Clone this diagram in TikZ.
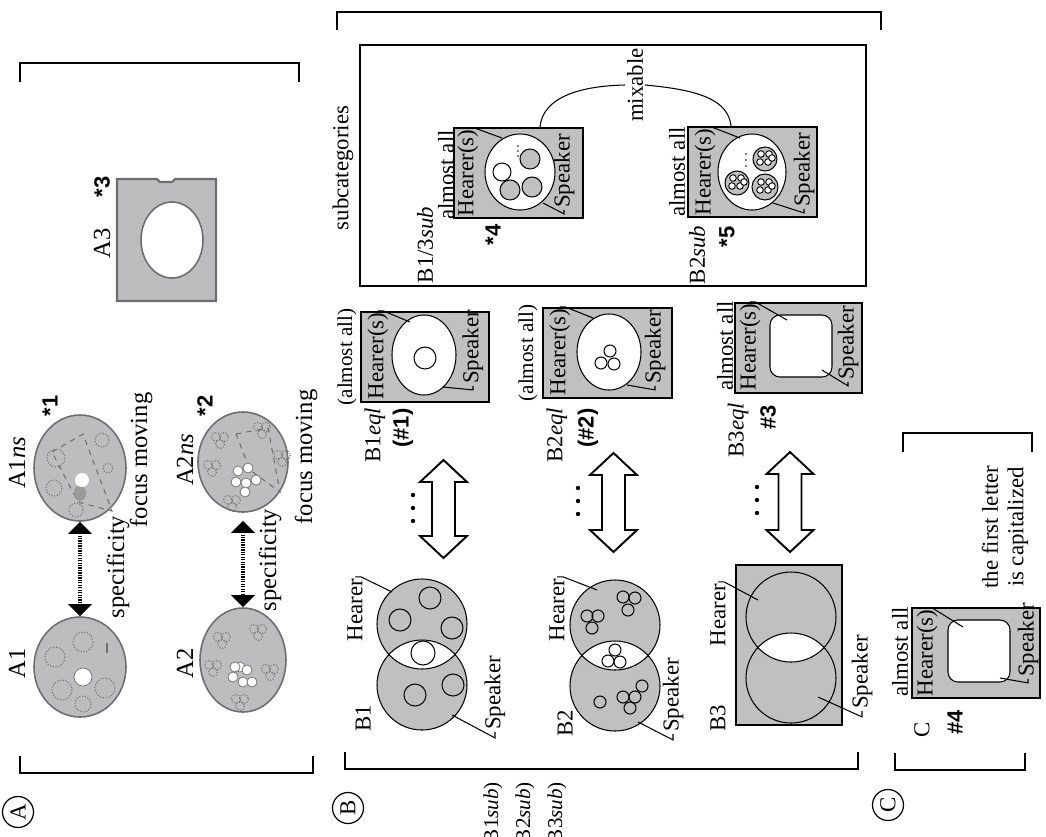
\documentclass[tikz,border=0pt]{standalone}
\usepackage{fontspec}
\setmainfont{Liberation Serif}
\setsansfont{Liberation Sans}
\usepackage{tikz}
\usetikzlibrary{arrows.meta,shapes.geometric}
\definecolor{boxgray}{RGB}{192,192,192}
\definecolor{picgray}{RGB}{189,189,191}
\definecolor{picedge}{RGB}{110,110,112}
\tikzset{
  lbl/.style      = {rotate=90,inner sep=1pt,font=\fontsize{13}{14.5}\selectfont},
  biglbl/.style   = {rotate=90,inner sep=1pt,font=\fontsize{14}{15}\selectfont},
  tag/.style      = {rotate=90,inner sep=1pt,font=\fontsize{12.5}{14}\sffamily\bfseries\selectfont},
  bracket/.style  = {line width=1.3pt},
  graybox/.style  = {draw,line width=1.2pt,fill=boxgray,inner sep=0pt},
  picell/.style   = {ellipse,draw=picedge,line width=0.9pt,fill=picgray,inner sep=0pt},
  leader/.style   = {line width=0.6pt},
  thinc/.style    = {line width=0.6pt},
  dotarr/.style   = {{Triangle[length=2.4mm,width=4.6mm]}-{Triangle[length=2.4mm,width=4.6mm]},
                     line width=2pt,dash pattern=on 0.7pt off 0.7pt},
  blockarr/.style = {draw,line width=1.1pt,fill=white,line join=miter},
  dotc/.style     = {draw=picedge,densely dotted,line width=0.6pt},
  wdot/.style     = {draw=picedge,fill=white,line width=0.4pt},
  circled/.style  = {draw,circle,line width=0.7pt,minimum size=6.2mm,inner sep=0pt,rotate=90,
                     font=\fontsize{13}{14}\selectfont}
}
\newcommand{\blockdarrow}[3]{%
  \draw[blockarr] (#1,#2) -- ({#1+23.5},{#2+22}) -- ({#1+11.5},{#2+22})
    -- ({#1+11.5},{#3-22}) -- ({#1+23.5},{#3-22}) -- (#1,#3)
    -- ({#1-23.5},{#3-22}) -- ({#1-11.5},{#3-22}) -- ({#1-11.5},{#2+22})
    -- ({#1-23.5},{#2+22}) -- cycle;}
\newcommand{\vdotsat}[2]{%
  \foreach \k in {0,13,26} \fill (#1,{#2+\k}) circle [radius=2.2];}
\newcommand{\subclus}[3]{%
  \draw[thinc,fill=boxgray] (#1,#2) circle [radius=#3];
  \foreach \dx/\dy in {-4/-5,4/-5,-5/3,3/3,7/-1}
    \draw[line width=0.5pt,fill=white] ({#1+\dx},{#2+\dy}) circle [radius=3.3];}

\begin{document}
\begin{tikzpicture}[x=0.2mm,y=-0.2mm]
  \clip (0,0) rectangle (1046,836);
  \fill[white] (0,0) rectangle (1046,836);

  % ---------- part A ----------
  \draw[bracket] (20,82) -- (20,63) -- (299,63) -- (299,82);
  \draw[bracket] (20,756) -- (20,773) -- (313,773) -- (313,756);
  \node[circled] (ca) at (18,812) {A};

  % A3
  \draw[draw=picedge,line width=1.2pt,fill=picgray] (117,179) -- (157,179) -- (160,182)
       -- (172,182) -- (175,179) -- (216,179) -- (216,301) -- (117,301) -- cycle;
  \draw[draw=picedge,line width=0.9pt,fill=white] (172,240) ellipse [x radius=31, y radius=38];
  \node[biglbl] (la3) at (102,243) {A3};
  \node[tag] (s3) at (102,187) {*3};

  % A1 and A1ns
  \node[picell,minimum width=18.4mm,minimum height=20mm] (a1) at (80,667) {};
  \node[picell,minimum width=18.4mm,minimum height=21.2mm] (a1ns) at (80,468) {};
  \draw[dotc] (83,642) circle [radius=10];
  \draw[dotc] (55,657) circle [radius=10];
  \draw[dotc] (62,690) circle [radius=10];
  \draw[dotc] (105,688) circle [radius=10];
  \draw[dotc] (83,704) circle [radius=8];
  \draw[picedge,line width=0.6pt] (107,643) -- (107,653);
  \draw[wdot] (83,677) circle [radius=9];
  \draw[picedge,dashed,line width=0.6pt] (52,452) -- (83,434) -- (112,511) -- (78,502) -- cycle;
  \draw[dotc] (56,458) circle [radius=9];
  \draw[dotc] (54,488) circle [radius=8];
  \draw[dotc] (102,440) circle [radius=7];
  \draw[dotc] (76,510) circle [radius=7];
  \draw[dotc] (108,468) circle [radius=5];
  \fill[picedge!70] (80,493) ellipse [x radius=6, y radius=8];
  \fill[white] (82,480) circle [radius=7];
  \node[biglbl] (la1) at (17,663) {A1};
  \node[biglbl] (la1ns) at (17,463) {A1\textit{ns}};
  \node[tag] (s1) at (50,406) {*1};
  \draw[dotarr] (a1ns.south) -- (a1.north);
  \node[biglbl] (sp1) at (118,567) {specificity};
  \node[biglbl] (fm1) at (141,460) {focus moving};

  % A2 and A2ns
  \node[picell,minimum width=17.2mm,minimum height=20.8mm] (a2) at (243,660) {};
  \node[picell,minimum width=18mm,minimum height=20mm] (a2ns) at (243,462) {};
  \foreach \x/\y in {222/640,258/632,270/672,213/668,240/702,220/440,262/430,282/458,212/468,232/503}{
    \draw[dotc] ({\x-4},{\y-3}) circle [radius=4.5];
    \draw[dotc] ({\x+4},{\y-3}) circle [radius=4.5];
    \draw[dotc] (\x,{\y+4}) circle [radius=4.5];}
  \foreach \x/\y in {233/677,240/667,247/670,243/682,252/682,235/667}
    \draw[wdot] (\x,\y) circle [radius=5];
  \draw[picedge,dashed,line width=0.6pt] (236,434) -- (268,428) -- (280,492) -- (250,470) -- cycle;
  \foreach \x/\y in {238/471,248/468,236/482,246/483,256/480,245/492}
    \draw[wdot] (\x,\y) circle [radius=5];
  \node[biglbl] (la2) at (185,663) {A2};
  \node[biglbl] (la2ns) at (185,460) {A2\textit{ns}};
  \node[tag] (s2) at (205,406) {*2};
  \draw[dotarr,shorten <=1.6mm] (a2ns.south) -- (a2.north);
  \node[biglbl] (sp2) at (270,560) {specificity};
  \node[biglbl] (fm2) at (306,457) {focus moving};

  % ---------- part B ----------
  \draw[bracket] (337,30) -- (337,12) -- (881,12) -- (881,30);
  \draw[bracket] (345,752) -- (345,769) -- (858,769) -- (858,752);
  \node[circled] (cb) at (348,808) {B};
  \node[lbl,anchor=east,font=\fontsize{12}{13}\selectfont] (bs1) at (493,780) {(B1\textit{sub})};
  \node[lbl,anchor=east,font=\fontsize{12}{13}\selectfont] (bs2) at (525,780) {(B2\textit{sub})};
  \node[lbl,anchor=east,font=\fontsize{12}{13}\selectfont] (bs3) at (557,780) {(B3\textit{sub})};

  % subcategories
  \draw[line width=1.2pt] (360,45) rectangle (866,286);
  \node[lbl] (subcat) at (343,168) {subcategories};

  \node[graybox,minimum width=25.8mm,minimum height=18mm] (b13sub) at (518.5,173) {};
  \draw[thinc,fill=white] (520,172) ellipse [x radius=35, y radius=38];
  \draw[thinc,fill=white] (502,172) circle [radius=9];
  \draw[thinc,fill=boxgray] (510,190) circle [radius=10];
  \draw[thinc,fill=boxgray] (532,187) circle [radius=10];
  \draw[thinc,fill=boxgray] (530,159) circle [radius=10];
  \foreach \k in {146,151,156} \fill (518,\k) circle [radius=0.9];
  \node[lbl] (al13) at (446,175) {almost all};
  \node[lbl] (h13) at (468,173) {Hearer(s)};
  \node[lbl] (p13) at (564,171) {Speaker};
  \node[lbl] (n13) at (425,245) {B1/3\textit{sub}};
  \node[tag] (t4) at (493,235) {*4};
  \coordinate (h13t) at (502,138);
  \coordinate (p13t) at (543,203);
  \draw[leader] (h13.east) -- ++(6,0) -- (h13t);
  \draw[leader] (p13.west) -- ++(0,4) -- (p13t);

  \node[graybox,minimum width=25.8mm,minimum height=18mm] (b2sub) at (752.5,172) {};
  \draw[thinc,fill=white] (752,172) ellipse [x radius=34, y radius=38];
  \subclus{765}{159}{12}
  \subclus{765}{187}{13}
  \subclus{737}{183}{12}
  \foreach \k in {154,160,166} \fill (746,\k) circle [radius=0.9];
  \node[lbl] (al2s) at (677,172) {almost all};
  \node[lbl] (h2s) at (705,172) {Hearer(s)};
  \node[lbl] (p2s) at (804,170) {Speaker};
  \node[lbl] (n2s) at (697,255) {B2\textit{sub}};
  \node[tag] (t5) at (727,237) {*5};
  \coordinate (h2st) at (740,138);
  \coordinate (p2st) at (773,203);
  \draw[leader] (h2s.east) -- ++(6,0) -- (h2st);
  \draw[leader] (p2s.west) -- ++(0,4) -- (p2st);

  \node[lbl] (mix) at (635,85) {mixable};
  \draw[thinc] (b13sub.65) .. controls (543,97) and (580,86) .. (mix.north);
  \draw[thinc] (mix.south) .. controls (700,90) and (728,100) .. (b2sub.115);

  % eql boxes
  \node[graybox,minimum width=25.6mm,minimum height=18mm] (b1eq) at (425,357) {};
  \draw[thinc,fill=white] (424,355) ellipse [x radius=32, y radius=40];
  \draw[thinc] (425,358) circle [radius=11];
  \node[lbl,font=\fontsize{12}{13}\selectfont] (al1) at (347,357) {(almost all)};
  \node[lbl] (h1e) at (378,356) {Hearer(s)};
  \node[lbl] (p1e) at (473,347) {Speaker};
  \coordinate (h1et) at (410,322);
  \coordinate (p1et) at (443,387);
  \draw[leader] (h1e.east) -- ++(5,0) -- (h1et);
  \draw[leader] (p1e.west) -- ++(0,4) -- (p1et);
  \node[lbl] (n1e) at (375,435) {B1\textit{eql}};
  \node[tag] (t1) at (403,428) {(\#1)};

  \node[graybox,minimum width=25.8mm,minimum height=18mm] (b2eq) at (607.5,353) {};
  \draw[thinc,fill=white] (609,352) ellipse [x radius=32, y radius=38];
  \foreach \x/\y in {610/351,601/363,614/364} \draw[thinc] (\x,\y) circle [radius=6];
  \node[lbl,font=\fontsize{12}{13}\selectfont] (al2) at (528,353) {(almost all)};
  \node[lbl] (h2e) at (560,352) {Hearer(s)};
  \node[lbl] (p2e) at (655,347) {Speaker};
  \coordinate (h2et) at (593,318);
  \coordinate (p2et) at (627,385);
  \draw[leader] (h2e.east) -- ++(5,0) -- (h2et);
  \draw[leader] (p2e.west) -- ++(0,4) -- (p2et);
  \node[lbl] (n2e) at (557,435) {B2\textit{eql}};
  \node[tag] (t2) at (588,428) {(\#2)};

  \node[graybox,minimum width=25.4mm,minimum height=18mm] (b3eq) at (798.5,348) {};
  \draw[thinc,fill=white,rounded corners=2mm] (770,315) rectangle (832,377);
  \node[lbl] (al3) at (725,346) {almost all};
  \node[lbl] (h3e) at (750,347) {Hearer(s)};
  \node[lbl] (p3e) at (848,343) {Speaker};
  \coordinate (h3et) at (787,320);
  \coordinate (p3et) at (822,370);
  \draw[leader] (h3e.east) -- ++(5,0) -- (h3et);
  \draw[leader] (p3e.west) -- ++(0,4) -- (p3et);
  \node[lbl] (n3e) at (738,430) {B3\textit{eql}};
  \node[tag] (t3) at (768,417) {\#3};

  % block arrows
  \blockdarrow{443.5}{460}{558}
  \blockdarrow{613.5}{453}{552}
  \blockdarrow{790}{452}{552}
  \vdotsat{413}{495}
  \vdotsat{578}{488}
  \vdotsat{757}{487}

  % Venn B1
  \fill[boxgray] (422,624) circle [radius=45];
  \fill[boxgray] (422,685) circle [radius=45];
  \begin{scope}
    \clip (422,624) circle [radius=45];
    \fill[white] (422,685) circle [radius=45];
  \end{scope}
  \draw[thinc] (422,624) circle [radius=45];
  \draw[thinc] (422,685) circle [radius=45];
  \foreach \x/\y in {430/598,400/620,452/628,415/695,453/685}
    \draw[thinc] (\x,\y) circle [radius=11];
  \draw[thinc] (423,653) circle [radius=12];
  \node[lbl] (b1l) at (363,718) {B1};
  \node[lbl] (b1h) at (355,610) {Hearer};
  \node[lbl] (b1p) at (495,693) {Speaker};
  \coordinate (b1ht) at (392,592);
  \coordinate (b1pt) at (452,715);
  \draw[leader] (b1h.east) -- ++(6,0) -- (b1ht);
  \draw[leader] (b1p.west) -- ++(0,6) -- (b1pt);

  % Venn B2
  \fill[boxgray] (615,625) circle [radius=45];
  \fill[boxgray] (615,686) circle [radius=45];
  \begin{scope}
    \clip (615,625) circle [radius=45];
    \fill[white] (615,686) circle [radius=45];
  \end{scope}
  \draw[thinc] (615,625) circle [radius=45];
  \draw[thinc] (615,686) circle [radius=45];
  \foreach \x/\y in {587/616,598/616,592/628,623/597,635/598,628/610,615/650,608/661,620/662,
                     600/702,623/697,635/697,642/686,630/708}
    \draw[thinc] (\x,\y) circle [radius=6];
  \node[lbl] (b2l) at (565,723) {B2};
  \node[lbl] (b2h) at (557,610) {Hearer};
  \node[lbl] (b2p) at (673,695) {Speaker};
  \coordinate (b2ht) at (597,590);
  \coordinate (b2pt) at (638,722);
  \draw[leader] (b2h.east) -- ++(6,0) -- (b2ht);
  \draw[leader] (b2p.west) -- ++(0,6) -- (b2pt);

  % Venn B3
  \draw[graybox] (736,565) rectangle (842,725);
  \begin{scope}
    \clip (791,617) circle [radius=45];
    \fill[white] (791,678) circle [radius=45];
  \end{scope}
  \draw[thinc] (791,617) circle [radius=45];
  \draw[thinc] (791,678) circle [radius=45];
  \node[lbl] (b3l) at (718,718) {B3};
  \node[lbl] (b3h) at (718,615) {Hearer};
  \node[lbl] (b3p) at (862,672) {Speaker};
  \coordinate (b3ht) at (758,600);
  \coordinate (b3pt) at (818,697);
  \draw[leader] (b3h.east) -- ++(6,0) -- (b3ht);
  \draw[leader] (b3p.west) -- ++(0,6) -- (b3pt);

  % ---------- part C ----------
  \draw[bracket] (903,452) -- (903,433) -- (1032,433) -- (1032,452);
  \draw[bracket] (895,753) -- (895,770) -- (1025,770) -- (1025,753);
  \node[circled] (cc) at (888,805) {C};
  \node[lbl,align=center] (cap) at (1005,527) {the first letter\\is capitalized};
  \node[graybox,minimum width=25.6mm,minimum height=18mm] (cbox) at (976,653) {};
  \draw[thinc,fill=white,rounded corners=2mm] (948,620) rectangle (1010,682);
  \node[lbl] (alc) at (900,652) {almost all};
  \node[lbl] (hc) at (927,653) {Hearer(s)};
  \node[lbl] (pc) at (1028,640) {Speaker};
  \coordinate (hct) at (963,627);
  \coordinate (pct) at (1000,678);
  \draw[leader] (hc.east) -- ++(5,0) -- (hct);
  \draw[leader] (pc.west) -- ++(0,4) -- (pct);
  \node[lbl] (cl) at (922,730) {C};
  \node[tag] (t4c) at (955,722) {\#4};
\end{tikzpicture}
\end{document}
